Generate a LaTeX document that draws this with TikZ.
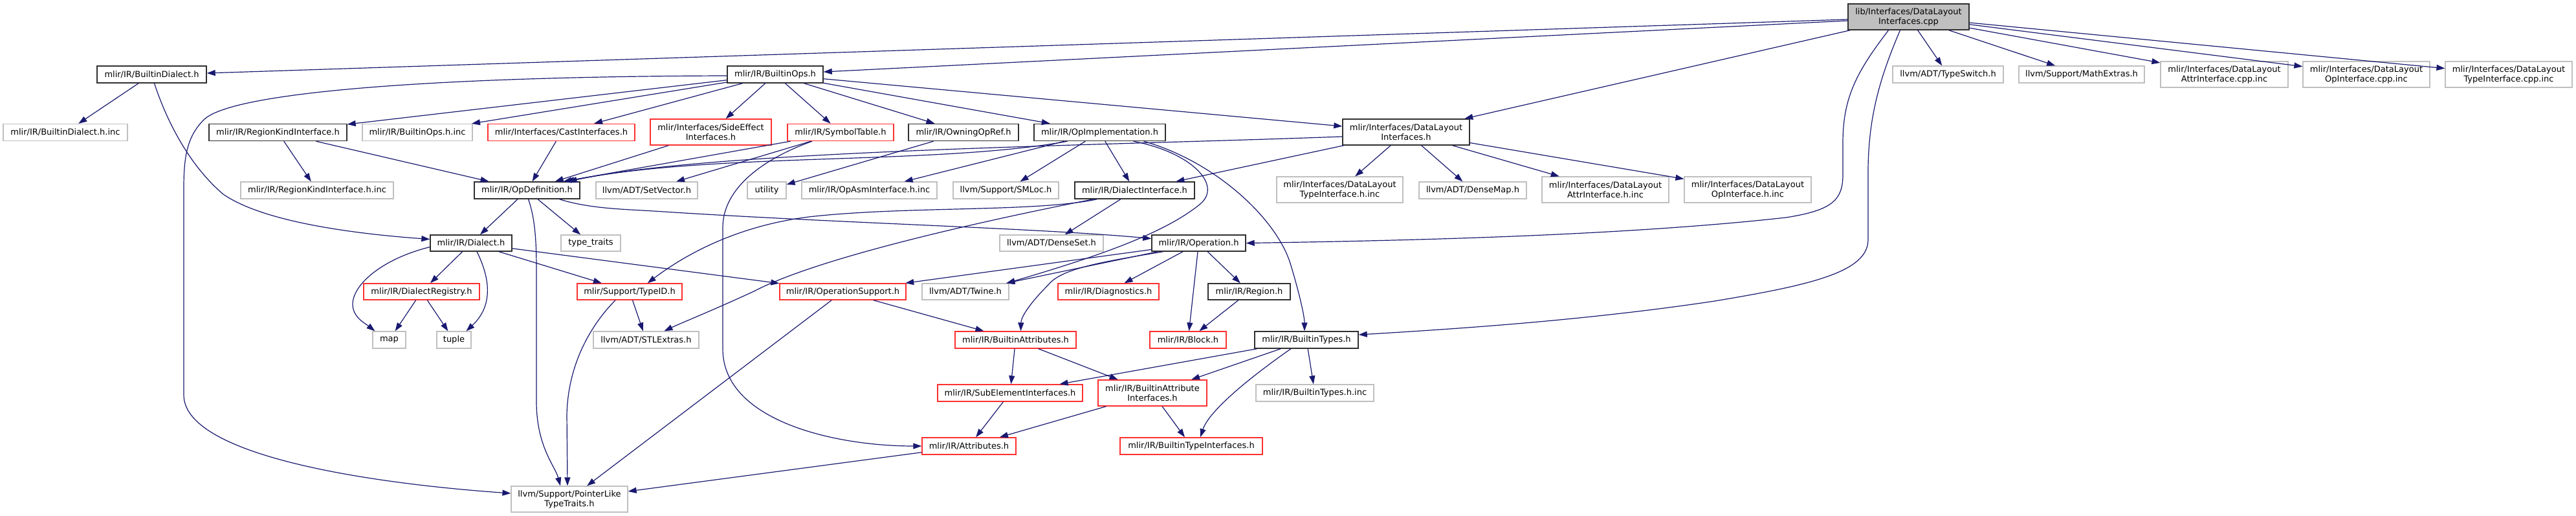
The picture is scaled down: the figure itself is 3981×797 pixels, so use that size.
\documentclass[tikz,border=0pt]{standalone}
\usepackage{fontspec}
\setmainfont{DejaVu Sans}
\usetikzlibrary{arrows.meta,calc}
\definecolor{edgecol}{HTML}{191970}
\definecolor{nodeblack}{HTML}{303030}
\definecolor{nodegray}{HTML}{BFBFBF}
\definecolor{nodered}{HTML}{FF3030}
\definecolor{mainfill}{HTML}{BFBFBF}
\tikzset{
  nbase/.style={rectangle, inner sep=2pt, minimum height=26pt, align=center,
    font=\fontsize{13}{15}\selectfont, line width=1.4pt, fill=white},
  nblack/.style={nbase, draw=nodeblack},
  ngray/.style={nbase, draw=nodegray, line width=1.2pt},
  nred/.style={nbase, draw=nodered},
  nmain/.style={nbase, draw=nodeblack, fill=mainfill},
  two/.style={minimum height=40pt},
  dep/.style={draw=edgecol, line width=1.2pt, -{Triangle[length=13pt,width=9pt]}, fill=none}
}
\begin{document}
\begin{tikzpicture}[x=1pt,y=-1pt]
\useasboundingbox (0,0) rectangle (3981,797);
% row 1
\node[nmain, two, minimum width=187pt] (main) at (2949.5,26) {lib/Interfaces/DataLayout\\Interfaces.cpp};
% row 2
\node[nblack, minimum width=169pt] (bd) at (234.5,115) {mlir/IR/BuiltinDialect.h};
\node[nblack, minimum width=148pt] (bo) at (1198,115) {mlir/IR/BuiltinOps.h};
\node[ngray, minimum width=171pt] (ts) at (3010.5,115) {llvm/ADT/TypeSwitch.h};
\node[ngray, minimum width=194pt] (me) at (3217,115) {llvm/Support/MathExtras.h};
\node[ngray, two, minimum width=197pt] (aci) at (3437.5,115) {mlir/Interfaces/DataLayout\\AttrInterface.cpp.inc};
\node[ngray, two, minimum width=196pt] (oci) at (3657,115) {mlir/Interfaces/DataLayout\\OpInterface.cpp.inc};
\node[ngray, two, minimum width=196pt] (tci) at (3877,115) {mlir/Interfaces/DataLayout\\TypeInterface.cpp.inc};
% row 3
\node[ngray, minimum width=192pt] (bdinc) at (101,204.5) {mlir/IR/BuiltinDialect.h.inc};
\node[nblack, minimum width=213pt] (rki) at (429.5,204.5) {mlir/IR/RegionKindInterface.h};
\node[ngray, minimum width=170pt] (boinc) at (645,204.5) {mlir/IR/BuiltinOps.h.inc};
\node[nred, minimum width=227pt] (cast) at (867.5,204.5) {mlir/Interfaces/CastInterfaces.h};
\node[nred, two, minimum width=187pt] (se) at (1098.5,204) {mlir/Interfaces/SideEffect\\Interfaces.h};
\node[nred, minimum width=164pt] (sym) at (1299,204.5) {mlir/IR/SymbolTable.h};
\node[nblack, minimum width=170pt] (own) at (1489,204.5) {mlir/IR/OwningOpRef.h};
\node[nblack, minimum width=203pt] (opimpl) at (1699.5,204.5) {mlir/IR/OpImplementation.h};
\node[nblack, two, minimum width=196pt] (dli) at (2173,204) {mlir/Interfaces/DataLayout\\Interfaces.h};
% row 4
\node[ngray, minimum width=236pt] (rkiinc) at (490,294) {mlir/IR/RegionKindInterface.h.inc};
\node[nblack, minimum width=163pt] (opdef) at (814.5,294) {mlir/IR/OpDefinition.h};
\node[ngray, minimum width=157pt] (sv) at (999.5,294) {llvm/ADT/SetVector.h};
\node[ngray, minimum width=60pt] (util) at (1185,294) {utility};
\node[ngray, minimum width=209pt] (oai) at (1343.5,294) {mlir/IR/OpAsmInterface.h.inc};
\node[ngray, minimum width=163pt] (sml) at (1554.5,294) {llvm/Support/SMLoc.h};
\node[nblack, minimum width=185pt] (di) at (1753.5,294) {mlir/IR/DialectInterface.h};
\node[ngray, two, minimum width=195pt] (dlti) at (2070.5,293) {mlir/Interfaces/DataLayout\\TypeInterface.h.inc};
\node[ngray, minimum width=166pt] (dm) at (2276,294) {llvm/ADT/DenseMap.h};
\node[ngray, two, minimum width=196pt] (dlai) at (2481,293) {mlir/Interfaces/DataLayout\\AttrInterface.h.inc};
\node[ngray, two, minimum width=196pt] (dloi) at (2701,293) {mlir/Interfaces/DataLayout\\OpInterface.h.inc};
% row 5
\node[nblack, minimum width=126pt, minimum height=25pt] (dialect) at (728,375.5) {mlir/IR/Dialect.h};
\node[ngray, minimum width=92pt, minimum height=25pt] (tt) at (913,375.5) {type\_traits};
\node[ngray, minimum width=160pt, minimum height=25pt] (ds) at (1625,375.5) {llvm/ADT/DenseSet.h};
\node[nblack, minimum width=145pt, minimum height=25pt] (op) at (1852.5,375.5) {mlir/IR/Operation.h};
% row 6
\node[nred, minimum width=179pt, minimum height=25pt] (dr) at (651.5,450.5) {mlir/IR/DialectRegistry.h};
\node[nred, minimum width=162pt, minimum height=25pt] (tid) at (973,450.5) {mlir/Support/TypeID.h};
\node[nred, minimum width=195pt, minimum height=25pt] (ops) at (1302.5,450.5) {mlir/IR/OperationSupport.h};
\node[ngray, minimum width=134pt, minimum height=25pt] (tw) at (1492,450.5) {llvm/ADT/Twine.h};
\node[nred, minimum width=156pt, minimum height=25pt] (diag) at (1713,450.5) {mlir/IR/Diagnostics.h};
\node[nblack, minimum width=127pt, minimum height=25pt] (reg) at (1930.5,450.5) {mlir/IR/Region.h};
% row 7
\node[ngray, minimum width=51pt] (map) at (601.5,525) {map};
\node[ngray, minimum width=53pt] (tuple) at (701.5,525) {tuple};
\node[ngray, minimum width=163pt] (stl) at (998.5,525) {llvm/ADT/STLExtras.h};
\node[nred, minimum width=187pt] (ba) at (1569.5,525) {mlir/IR/BuiltinAttributes.h};
\node[nred, minimum width=118pt] (blk) at (1836,525) {mlir/IR/Block.h};
\node[nblack, minimum width=160pt] (bt) at (2019,525) {mlir/IR/BuiltinTypes.h};
% row 8
\node[nred, minimum width=224pt] (sei) at (1561,607) {mlir/IR/SubElementInterfaces.h};
\node[nred, two, minimum width=168pt] (bai) at (1781,607) {mlir/IR/BuiltinAttribute\\Interfaces.h};
\node[ngray, minimum width=182pt] (btinc) at (2032,607) {mlir/IR/BuiltinTypes.h.inc};
% row 9
\node[nred, minimum width=145pt] (attr) at (1497.5,689) {mlir/IR/Attributes.h};
\node[nred, minimum width=220pt] (bti) at (1841,689) {mlir/IR/BuiltinTypeInterfaces.h};
% row 10
\node[ngray, two, minimum width=180pt] (plt) at (880,771) {llvm/Support/PointerLike\\TypeTraits.h};

% ---- edges ----
% from main
\draw[dep] ($(main.west)+(0,4)$) -- ($(bd.east)+(0,-2)$);
\draw[dep] ($(main.west)+(0,6)$) -- ($(bo.east)+(0,-4)$);
\draw[dep] (main) -- (dli);
\draw[dep] ($(main.south)+(-31,0)$) .. controls (2870,110) and (2848,150) .. (2848,220) -- (2848,270) .. controls (2848,310) and (2830,325) .. (2760,336) .. controls (2500,365) and (2150,372) .. (op.east);
\draw[dep] ($(main.south)+(-13,0)$) .. controls (2905,120) and (2888,180) .. (2887,260) -- (2887,370) .. controls (2887,420) and (2800,440) .. (2650,465) .. controls (2450,495) and (2250,508) .. ($(bt.east)+(0,-8)$);
\draw[dep] (main) -- (ts);
\draw[dep] (main) -- (me);
\draw[dep] (main) -- (aci);
\draw[dep] (main) -- (oci);
\draw[dep] (main) -- (tci);
% from BuiltinDialect.h
\draw[dep] (bd) -- (bdinc);
\draw[dep] ($(bd.south)+(4,0)$) .. controls (262,200) and (300,262) .. (345,300) .. controls (410,345) and (560,362) .. ($(dialect.west)+(0,-6)$);
% from BuiltinOps.h
\draw[dep] ($(bo.west)+(0,2)$) .. controls (700,118) and (360,140) .. (315,185) .. controls (290,210) and (284,240) .. (284,290) -- (284,610) .. controls (284,700) and (550,745) .. ($(plt.west)+(0,-9)$);
\draw[dep] (bo) -- (rki);
\draw[dep] (bo) -- (boinc);
\draw[dep] (bo) -- (cast);
\draw[dep] (bo) -- (se);
\draw[dep] (bo) -- (sym);
\draw[dep] (bo) -- (own);
\draw[dep] (bo) -- (opimpl);
\draw[dep] (bo) -- (dli);
% row 3 sources
\draw[dep] (rki) -- (rkiinc);
\draw[dep] (rki) -- (opdef);
\draw[dep] (cast) -- (opdef);
\draw[dep] (se) -- (opdef);
\draw[dep] (sym) -- ($(opdef.north)+(56,0)$);
\draw[dep] (sym) -- (sv);
\draw[dep] ($(sym.south)+(-44,0)$) .. controls (1180,245) and (1118,290) .. (1117,350) -- (1117,540) .. controls (1118,650) and (1290,689) .. (attr.west);
\draw[dep] (own) -- (util);
\draw[dep] ($(opimpl.south)+(-50,0)$) .. controls (1450,255) and (1100,235) .. ($(opdef.north)+(60,0)$);
\draw[dep] (opimpl) -- (oai);
\draw[dep] (opimpl) -- (sml);
\draw[dep] (opimpl) -- (di);
\draw[dep] ($(opimpl.south)+(52,0)$) .. controls (1840,235) and (1890,285) .. (1855,315) .. controls (1800,360) and (1700,395) .. ($(tw.north east)+(-4,0)$);
\draw[dep] ($(opimpl.south)+(68,0)$) .. controls (1880,250) and (1975,340) .. (1995,410) .. controls (2010,460) and (2016,490) .. ($(bt.north)+(-3,0)$);
\draw[dep] ($(dli.west)+(0,7)$) .. controls (1700,225) and (1100,232) .. ($(opdef.north)+(64,0)$);
\draw[dep] (dli) -- (di);
\draw[dep] (dli) -- (dlti);
\draw[dep] (dli) -- (dm);
\draw[dep] (dli) -- (dlai);
\draw[dep] (dli) -- (dloi);
% OpDefinition.h
\draw[dep] (opdef) -- (dialect);
\draw[dep] (opdef) -- (tt);
\draw[dep] ($(opdef.south)+(2,0)$) .. controls (828,340) and (829,380) .. (829,420) -- (829,620) .. controls (829,690) and (858,720) .. ($(plt.north)+(-14,0)$);
\draw[dep] ($(opdef.south)+(50,0)$) .. controls (910,322) and (960,323) .. (1010,326) .. controls (1300,345) and (1600,352) .. ($(op.west)+(0,-7)$);
% Dialect.h
\draw[dep] ($(dialect.west)+(0,6)$) .. controls (590,400) and (545,440) .. (545,470) .. controls (545,490) and (565,500) .. ($(map.north)+(-22,0)$);
\draw[dep] (dialect) -- (dr);
\draw[dep] ($(dialect.south)+(9,0)$) .. controls (755,425) and (765,470) .. ($(tuple.north)+(19,0)$);
\draw[dep] (dialect) -- (tid);
\draw[dep] (dialect) -- (ops);
\draw[dep] (dr) -- (map);
\draw[dep] (dr) -- (tuple);
% TypeID.h
\draw[dep] (tid) -- (stl);
\draw[dep] ($(tid.south)+(-22,0)$) .. controls (915,500) and (878,560) .. (876,640) -- ($(plt.north)+(-3,0)$);
% DialectInterface.h
\draw[dep] (di) -- (ds);
\draw[dep] ($(di.south)+(-58,0)$) .. controls (1600,328) and (1400,318) .. (1250,335) .. controls (1130,350) and (1050,400) .. ($(tid.north east)+(-54,0)$);
\draw[dep] ($(di.south)+(-64,0)$) .. controls (1500,345) and (1260,400) .. (1165,450) .. controls (1100,480) and (1050,500) .. ($(stl.north)+(28,0)$);
% Operation.h
\draw[dep] (op) -- (ops);
\draw[dep] (op) -- (tw);
\draw[dep] ($(op.south)+(-55,0)$) .. controls (1700,405) and (1640,415) .. (1620,440) .. controls (1590,470) and (1578,490) .. ($(ba.north)+(8,0)$);
\draw[dep] (op) -- (diag);
\draw[dep] (op) -- (reg);
\draw[dep] (op) -- (blk);
\draw[dep] (reg) -- (blk);
% OperationSupport.h
\draw[dep] (ops) -- (ba);
\draw[dep] (ops) -- (plt);
% BuiltinAttributes.h
\draw[dep] (ba) -- (sei);
\draw[dep] (ba) -- (bai);
% BuiltinTypes.h
\draw[dep] (bt) -- (sei);
\draw[dep] (bt) -- (bai);
\draw[dep] ($(bt.south)+(-24,0)$) .. controls (1950,570) and (1870,630) .. ($(bti.north)+(14,0)$);
\draw[dep] (bt) -- (btinc);
% lower
\draw[dep] (sei) -- (attr);
\draw[dep] (bai) -- (attr);
\draw[dep] (bai) -- (bti);
\draw[dep] (attr) -- (plt);
\end{tikzpicture}
\end{document}
